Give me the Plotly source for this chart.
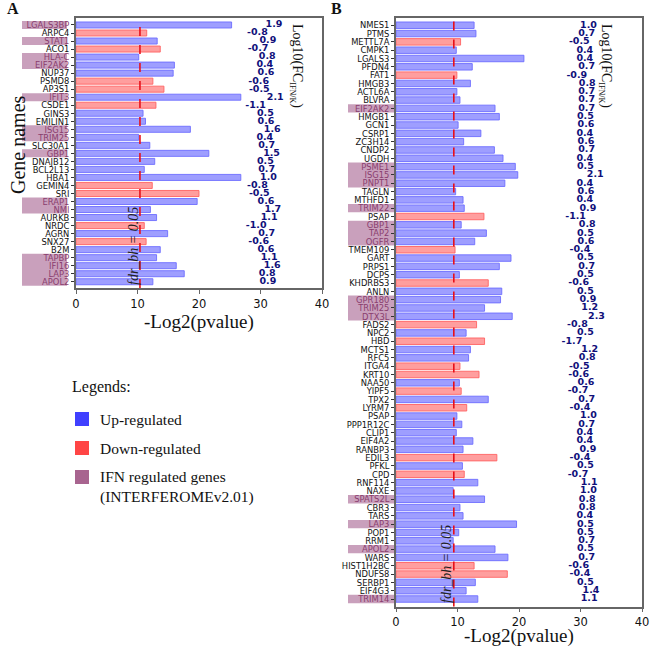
import plotly.graph_objects as go

# ---------------- Data ----------------
genes_a = ["LGALS3BP", "ARPC4", "STAT1", "ACO1", "HLA-C", "EIF2AK2", "NUP37", "PSMD8", "AP3S1",
           "IFIT3", "CSDE1", "GINS3", "EMILIN1", "ISG15", "TRIM25", "SLC30A1", "GBP1", "DNAJB12",
           "BCL2L13", "HBA1", "GEMIN4", "SRI", "ERAP1", "NMI", "AURKB", "NRDC", "AGRN", "SNX27",
           "B2M", "TAPBP", "IFI16", "LAP3", "APOL2"]
pval_a = [25.3, 11.5, 13.2, 13.7, 10.2, 16.0, 15.8, 12.5, 14.3,
          26.8, 13.0, 10.9, 11.3, 18.6, 10.2, 12.0, 21.6, 12.8,
          11.1, 26.8, 12.4, 20.0, 19.7, 12.1, 13.1, 11.1, 14.9, 11.4,
          13.7, 13.1, 16.3, 17.6, 12.5]
fc_a = [1.9, -0.8, 0.9, -0.7, 0.8, 0.4, 0.6, -0.6, -0.5,
        2.1, -1.1, 0.5, 0.6, 1.6, 0.4, 0.7, 1.5, 0.5,
        0.7, 1.0, -0.8, -0.5, 0.6, 1.7, 1.1, -1.0, 0.7, -0.6,
        0.6, 1.1, 1.6, 0.8, 0.9]
ifn_a = ["LGALS3BP", "STAT1", "HLA-C", "EIF2AK2", "IFIT3", "ISG15", "TRIM25", "GBP1",
         "ERAP1", "NMI", "TAPBP", "IFI16", "LAP3", "APOL2"]
fdr_a = 10.4

genes_b = ["NMES1", "PTMS", "METTL7A", "CMPK1", "LGALS3", "PFDN4", "FAT1", "HMGB3", "ACTL6A", "BLVRA",
           "EIF2AK2", "HMGB1", "GCN1", "CSRP1", "ZC3H14", "CNDP2", "UGDH", "PSME1", "ISG15", "PNPT1",
           "TAGLN", "MTHFD1", "TRIM22", "PSAP", "GBP1", "TAP2", "OGFR", "TMEM109", "GART", "PRPS1",
           "DCPS", "KHDRBS3", "ANLN", "GPR180", "TRIM25", "DTX3L", "FADS2", "NPC2", "HBD", "MCTS1",
           "RFC5", "ITGA4", "KRT10", "NAA50", "YIPF5", "TPX2", "LYRM7", "PSAP", "PPP1R12C", "CLIP1",
           "EIF4A2", "RANBP3", "EDIL3", "PFKL", "CPD", "RNF114", "NAXE", "SPATS2L", "CBR3", "TARS",
           "LAP3", "POP1", "RRM1", "APOL2", "WARS", "HIST1H2BC", "NDUFS8", "SERBP1", "EIF4G3", "TRIM14"]
pval_b = [12.7, 13.0, 10.5, 9.8, 20.8, 12.4, 9.9, 12.1, 9.9, 10.4,
          16.1, 16.8, 10.1, 13.8, 11.0, 16.0, 17.4, 19.4, 19.8, 17.7,
          9.7, 10.9, 11.1, 14.3, 10.6, 14.7, 12.8, 9.6, 18.7, 16.8,
          10.3, 15.0, 17.2, 17.0, 14.4, 18.9, 13.1, 11.4, 14.4, 12.1,
          11.8, 10.4, 13.5, 10.3, 10.6, 15.0, 11.5, 9.9, 10.7, 9.8,
          12.5, 10.9, 16.4, 10.8, 11.1, 13.3, 9.3, 14.4, 10.4, 10.9,
          19.6, 10.2, 9.3, 16.1, 18.2, 12.7, 18.1, 12.9, 11.4, 13.3]
fc_b = [1.0, 0.7, -0.5, 0.4, 0.4, 0.7, -0.9, 0.8, 0.7, 0.7,
        0.7, 0.5, 0.6, 0.4, 0.6, 0.7, 0.4, 0.5, 2.1, 0.4,
        0.6, 0.4, 0.9, -1.1, 0.8, 0.5, 0.6, -0.4, 0.5, 0.7,
        0.5, -0.6, 0.5, 0.9, 1.2, 2.3, -0.8, 0.5, -1.7, 1.2,
        0.8, -0.5, -0.6, 0.6, -0.7, 0.7, -0.4, 1.0, 0.7, 0.4,
        0.4, 0.9, -0.4, 0.5, -0.7, 1.1, 1.0, 0.8, 0.8, 0.4,
        0.5, 0.5, 0.7, 0.5, 0.7, -0.6, -0.4, 0.5, 1.4, 1.1]
ifn_b = ["EIF2AK2", "PSME1", "ISG15", "PNPT1", "TRIM22", "GBP1", "TAP2", "OGFR", "GPR180",
         "TRIM25", "DTX3L", "SPATS2L", "LAP3", "APOL2", "TRIM14"]
fdr_b = 9.4

xticks = [0, 10, 20, 30, 40]
fc_text_offset = 30.3

# ---------------- Styles ----------------
W, H = 650, 649
UP_FILL, UP_EDGE = "rgba(120,120,255,0.72)", "rgba(110,110,255,0.9)"
DN_FILL, DN_EDGE = "rgba(255,120,120,0.72)", "rgba(255,100,100,0.9)"
HL_BOX = "#c9a0bc"
HL_TEXT = "#8a3d6e"
VAL_COLOR = "#10107a"
FRAME = "#666666"
SERIF = "Liberation Serif, DejaVu Serif, serif"
SANS = "DejaVu Sans Condensed, DejaVu Sans, sans-serif"


def px(x):
    return x / W


def py(y):
    return 1 - y / H


def ann(x, y, text, font, **kw):
    d = dict(xref="paper", yref="paper", x=px(x), y=py(y), text=text, showarrow=False,
             xanchor="center", yanchor="middle", font=font)
    d.update(kw)
    return d


panels = [
    dict(genes=genes_a, pval=pval_a, fc=fc_a, ifn=ifn_a, fdr=fdr_a, xa="x", ya="y",
         xdom=[px(76), px(322)], ydom=[py(288), py(18)], yr=[len(genes_a) - 1 + 0.78, -0.87],
         box=(22, 67), bw=0.75, title_xy=(199, 322)),
    dict(genes=genes_b, pval=pval_b, fc=fc_b, ifn=ifn_b, fdr=fdr_b, xa="x2", ya="y2",
         xdom=[px(396), px(642)], ydom=[py(606.5), py(18)], yr=[len(genes_b) - 1 + 0.9, -0.87],
         box=(348, 394), bw=0.78, title_xy=(519, 636)),
]

fig = go.Figure()
shapes = []
annotations = []

for k, p in enumerate(panels):
    n = len(p["genes"])
    idx = list(range(n))
    colors = [UP_FILL if v > 0 else DN_FILL for v in p["fc"]]
    edges = [UP_EDGE if v > 0 else DN_EDGE for v in p["fc"]]
    fig.add_trace(go.Bar(
        x=p["pval"], y=idx, orientation="h", width=p["bw"],
        marker=dict(color=colors, line=dict(color=edges, width=1)),
        xaxis=p["xa"], yaxis=p["ya"], showlegend=False, hoverinfo="x+y"))
    fig.add_trace(go.Scatter(
        x=[fc_text_offset + v for v in p["fc"]], y=idx, mode="text",
        text=[f"{v:.1f}" for v in p["fc"]],
        textfont=dict(family="DejaVu Sans, sans-serif", size=9.5, color=VAL_COLOR, weight="bold"),
        textposition="middle center",
        xaxis=p["xa"], yaxis=p["ya"], showlegend=False, hoverinfo="skip", cliponaxis=False))

    ticktext = [f"<span style='color:{HL_TEXT}'>{g}</span>" if g in p["ifn"] else g
                for g in p["genes"]]
    ax_suffix = "" if k == 0 else "2"
    fig.update_layout(**{
        "xaxis" + ax_suffix: dict(
            domain=p["xdom"], range=[0, 40], tickvals=xticks, ticks="outside", ticklen=4,
            tickcolor=FRAME, showline=True, linecolor=FRAME, linewidth=1.5, mirror=True,
            showgrid=False, zeroline=False, anchor=p["ya"], automargin=False,
            tickfont=dict(family="DejaVu Sans, sans-serif", size=11.5, color="#111")),
        "yaxis" + ax_suffix: dict(
            domain=p["ydom"], range=p["yr"], tickvals=idx, ticktext=ticktext,
            ticks="outside", ticklen=3, tickcolor="#333", showline=True, linecolor=FRAME,
            linewidth=1.5, mirror=True, showgrid=False, zeroline=False, anchor=p["xa"],
            automargin=False,
            tickfont=dict(family=SANS, size=9.3, color="#111")),
    })

    annotations.append(ann(p["title_xy"][0], p["title_xy"][1], "-Log2(pvalue)",
                           dict(family=SERIF, size=19, color="#111")))

    # IFN highlight boxes (merge contiguous rows)
    flags = [g in p["ifn"] for g in p["genes"]]
    i = 0
    while i < n:
        if flags[i]:
            j = i
            while j + 1 < n and flags[j + 1]:
                j += 1
            shapes.append(dict(type="rect", xref="paper", yref=p["ya"], layer="below",
                               x0=px(p["box"][0]), x1=px(p["box"][1]), y0=i - 0.5, y1=j + 0.5,
                               fillcolor=HL_BOX, line=dict(width=0)))
            i = j + 1
        else:
            i += 1

    # fdr line
    shapes.append(dict(type="line", xref=p["xa"], yref=p["ya"] + " domain",
                       x0=p["fdr"], x1=p["fdr"], y0=0, y1=1,
                       line=dict(color="#e8101a", width=1.6, dash="dash")))

# y-axis title for panel A
annotations.append(ann(18, 145, "Gene names", dict(family=SERIF, size=20, color="#111"),
                       textangle=-90))
# panel letters
annotations.append(ann(13, 9, "<b>A</b>", dict(family=SERIF, size=16, color="#111")))
annotations.append(ann(336, 9, "<b>B</b>", dict(family=SERIF, size=16, color="#111")))
# Log10(FC) labels
for xc in (296, 605):
    annotations.append(ann(xc, 66,
                           "Log10(FC<sub><span style='font-size:8px'>IFN/K</span></sub>)",
                           dict(family=SERIF, size=14, color="#111"), textangle=90))
# fdr labels
annotations.append(ann(133, 246, "<i>fdr_bh = 0.05</i>",
                       dict(family=SERIF, size=14, color="#222"), textangle=-90))
annotations.append(ann(446, 564, "<i>fdr_bh = 0.05</i>",
                       dict(family=SERIF, size=14, color="#222"), textangle=-90))

# Legend (custom)
annotations.append(ann(70, 387, "Legends:", dict(family=SERIF, size=16, color="#111"),
                       xanchor="left"))
leg_items = [("#4040ff", "Up-regulated", 419, 419),
             ("#ff4545", "Down-regulated", 448, 448),
             ("#a8648f", "IFN regulated genes<br>(INTERFEROMEv2.01)", 477, 487)]
for col, label, ysq, ytxt in leg_items:
    shapes.append(dict(type="rect", xref="paper", yref="paper",
                       x0=px(75), x1=px(89), y0=py(ysq + 7), y1=py(ysq - 7),
                       fillcolor=col, line=dict(width=0)))
    annotations.append(ann(98, ytxt, label, dict(family=SERIF, size=15.5, color="#111"),
                           xanchor="left", align="left"))

fig.update_layout(
    width=W, height=H, margin=dict(l=0, r=0, t=0, b=0),
    paper_bgcolor="white", plot_bgcolor="white",
    shapes=shapes, annotations=annotations, bargap=0.2, showlegend=False,
)

# remove the default 8px page margin so the figure sits at the window's corner
fig.write_html("out.html", config={"displayModeBar": False},
               post_script="document.body.style.margin='0';document.body.style.overflow='hidden';")
